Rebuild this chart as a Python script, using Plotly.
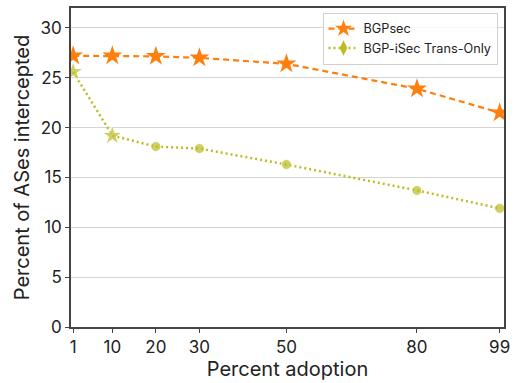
import plotly.graph_objects as go

adoption = [1, 10, 20, 30, 50, 80, 99]
bgpsec = [27.2, 27.2, 27.15, 27.0, 26.4, 23.9, 21.5]
isec = [25.6, 19.2, 18.1, 17.9, 16.3, 13.7, 11.9]
isec_symbols = ["star", "star", "circle", "circle", "circle", "circle", "circle"]
x_ticks = [1, 10, 20, 30, 50, 80, 99]
y_ticks = [0, 5, 10, 15, 20, 25, 30]

ORANGE = "#ff7f0e"
OLIVE = "#bcbd22"
FONT = "Inter"
AXIS = "#444"

fig = go.Figure()

fig.add_trace(go.Scatter(
    x=adoption, y=bgpsec, mode="lines+markers", showlegend=False,
    line=dict(color=ORANGE, width=2.2, dash="6px,4px"),
    marker=dict(symbol="star", size=15, color=ORANGE),
))
fig.add_trace(go.Scatter(
    x=adoption, y=isec, mode="lines+markers", showlegend=False,
    line=dict(color=OLIVE, width=2.5, dash="2px,3px"),
    marker=dict(symbol=isec_symbols, size=[15, 15, 10, 10, 10, 10, 10], color=OLIVE),
))

fig.add_trace(go.Scatter(
    x=[None], y=[None], mode="lines+markers", name="BGPsec",
    line=dict(color=ORANGE, width=2.2, dash="6px,4px"),
    marker=dict(symbol="star", size=13, color=ORANGE),
))
fig.add_trace(go.Scatter(
    x=[None], y=[None], mode="lines+markers", name="BGP-iSec Trans-Only",
    line=dict(color=OLIVE, width=2.5, dash="2px,3px"),
    marker=dict(symbol="diamond-tall", size=11, color=OLIVE),
))

fig.update_layout(
    width=516, height=383,
    margin=dict(l=71, r=7, t=6, b=56),
    paper_bgcolor="white", plot_bgcolor="white",
    font=dict(family=FONT, size=17, color="#222"),
    legend=dict(
        x=0.985, y=0.985, xanchor="right", yanchor="top",
        bgcolor="rgba(255,255,255,0.85)", bordercolor="#d0d0d0", borderwidth=1,
        font=dict(size=12.7, family=FONT, color="#222"),
        tracegroupgap=0, itemwidth=30,
    ),
    xaxis=dict(
        range=[0.5, 100], tickmode="array", tickvals=x_ticks,
        ticktext=[str(t) for t in x_ticks],
        showgrid=False, zeroline=False,
        showline=True, linecolor=AXIS, linewidth=1.5, mirror=True,
        ticks="outside", ticklen=4, tickcolor=AXIS, tickwidth=1,
        tickfont=dict(size=17),
        title=dict(text="Percent adoption", font=dict(size=20), standoff=4),
    ),
    yaxis=dict(
        range=[0, 32], tickmode="array", tickvals=y_ticks,
        showgrid=True, gridcolor="#d4d4d4", gridwidth=1.2, zeroline=False,
        showline=True, linecolor=AXIS, linewidth=1.5, mirror=True,
        ticks="outside", ticklen=4, tickcolor=AXIS, tickwidth=1,
        tickfont=dict(size=17),
        title=dict(text="Percent of ASes intercepted", font=dict(size=20), standoff=6),
    ),
)

fig.write_html("out.html")
